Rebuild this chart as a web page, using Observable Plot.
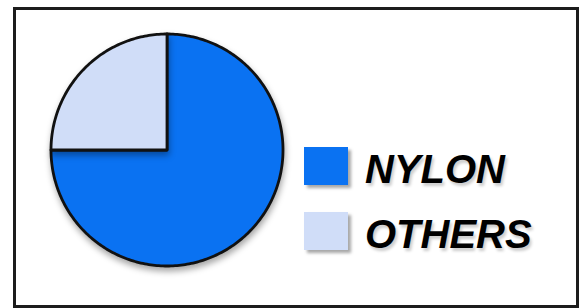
<!DOCTYPE html>
<html>
<head>
<meta charset="utf-8">
<script src="https://cdn.jsdelivr.net/npm/d3@7"></script>
<script src="https://cdn.jsdelivr.net/npm/@observablehq/plot@0.6"></script>
<style>
  html, body { margin: 0; padding: 0; background: #fff; }
  #wrap { position: relative; width: 585px; height: 308px; overflow: hidden; background: #fff; }
  #frame { position: absolute; left: 13px; top: 7px; width: 560px; height: 295px; border: 3px solid #1c1c1c; box-sizing: content-box; }
  #chart { position: absolute; left: 0; top: 0; }
  .pie path { filter: drop-shadow(1px 4px 3px rgba(0,0,0,0.35)); }
  .legend { position: absolute; left: 304px; top: 147px; font-family: "Liberation Sans", Arial, sans-serif; font-weight: bold; font-style: italic; font-size: 40px; color: #000; }
  .item { display: flex; align-items: center; height: 38px; margin-bottom: 27px; }
  .swatch { width: 44px; height: 38px; margin-right: 17px; box-shadow: 3px 3px 3px rgba(0,0,0,0.35); }
  .label { line-height: 38px; position: relative; top: 3px; text-shadow: 2px 3px 3px rgba(0,0,0,0.2); }
</style>
</head>
<body>
<div id="wrap">
  <div id="frame"></div>
  <div id="chart"></div>
  <div class="legend" id="legend"></div>
</div>
<script>
const categories = ["NYLON", "OTHERS"];
const values = [75, 25];
const colors = ["#0a72f2", "#d0ddf8"];

const arcs = d3.pie().sort(null)(values);
const points = [];
arcs.forEach((a, i) => {
  const name = categories[i];
  points.push({name, x: 0, y: 0});
  const steps = Math.max(2, Math.ceil((a.endAngle - a.startAngle) / (Math.PI / 180)));
  for (let k = 0; k <= steps; k++) {
    const t = a.startAngle + (a.endAngle - a.startAngle) * k / steps;
    points.push({name, x: Math.sin(t), y: Math.cos(t)});
  }
});

const plot = Plot.plot({
  width: 585,
  height: 308,
  margin: 0,
  x: {domain: [-1, 1], range: [50.5, 282.5], axis: null},
  y: {domain: [-1, 1], range: [265.5, 33.5], axis: null},
  color: {domain: categories, range: colors},
  marks: [
    Plot.line(points, {x: "x", y: "y", z: "name", fill: "name", stroke: "#111", strokeWidth: 2.8, strokeLinejoin: "round", curve: "linear-closed", className: "pie"})
  ]
});
plot.style.background = "transparent";
document.getElementById("chart").appendChild(plot);

const legend = document.getElementById("legend");
categories.forEach((c, i) => {
  const item = document.createElement("div");
  item.className = "item";
  const sw = document.createElement("div");
  sw.className = "swatch";
  sw.style.background = colors[i];
  const lb = document.createElement("span");
  lb.className = "label";
  lb.textContent = c;
  item.appendChild(sw);
  item.appendChild(lb);
  legend.appendChild(item);
});
</script>
</body>
</html>
